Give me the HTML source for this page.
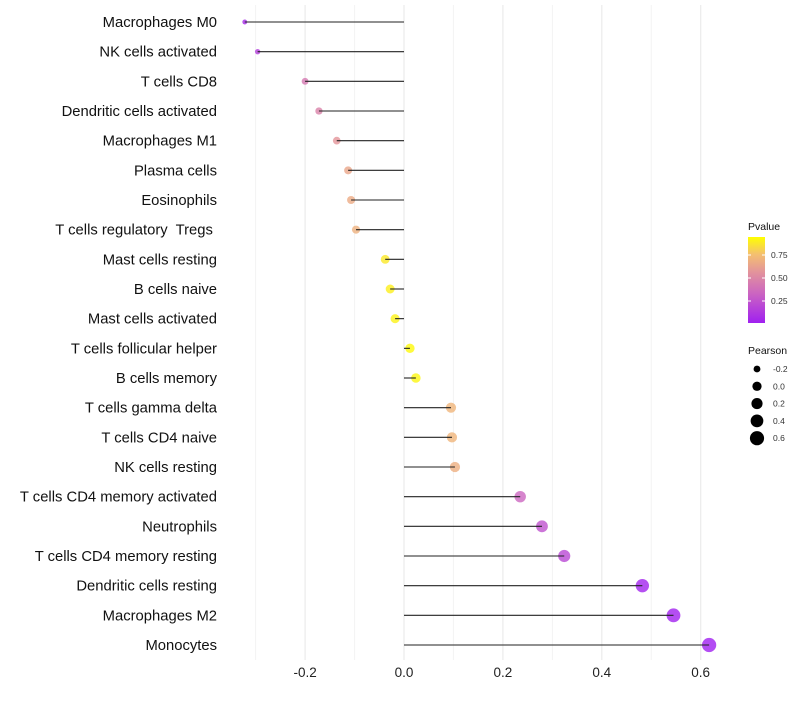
<!DOCTYPE html>
<html><head><meta charset="utf-8"><style>
body{margin:0;background:#fff;font-family:"Liberation Sans",sans-serif}
text{white-space:pre}
</style></head><body>
<svg id="chart" width="800" height="700" xmlns="http://www.w3.org/2000/svg" font-family="Liberation Sans, sans-serif">
<defs><linearGradient id="pg" x1="0" y1="1" x2="0" y2="0">
<stop offset="0" stop-color="#a020f0"/><stop offset="0.35" stop-color="#cc66c0"/><stop offset="0.6" stop-color="#e3959a"/><stop offset="0.8" stop-color="#f4c070"/><stop offset="1" stop-color="#ffff00"/></linearGradient></defs>
<g id="grid"></g><g id="marks"></g><g id="labels"></g><g id="legend"></g>
</svg>
<script>
const categories=["Macrophages M0","NK cells activated","T cells CD8","Dendritic cells activated","Macrophages M1","Plasma cells","Eosinophils","T cells regulatory  Tregs ","Mast cells resting","B cells naive","Mast cells activated","T cells follicular helper","B cells memory","T cells gamma delta","T cells CD4 naive","NK cells resting","T cells CD4 memory activated","Neutrophils","T cells CD4 memory resting","Dendritic cells resting","Macrophages M2","Monocytes"];
const pearson=[-0.322,-0.296,-0.200,-0.172,-0.136,-0.113,-0.107,-0.097,-0.038,-0.028,-0.018,0.012,0.024,0.095,0.097,0.103,0.235,0.279,0.324,0.482,0.545,0.617];
const pvalue=[0.05,0.15,0.45,0.5,0.6,0.68,0.7,0.73,0.93,0.95,0.96,0.98,0.97,0.75,0.75,0.72,0.35,0.25,0.2,0.02,0.01,0.003];
const xTicks=[-0.2,0,0.2,0.4,0.6];
const xMinor=[-0.3,-0.1,0.1,0.3,0.5];
const sizeLegend=[-0.2,0,0.2,0.4,0.6];
const colorTicks=[0.25,0.5,0.75];
const NS="http://www.w3.org/2000/svg";
const x=v=>404+v*494.5;
const y=i=>22+i*(623/21);
const r=v=>Math.sqrt(Math.max(3.5,21.4+48*v));
const stops=[[0,[160,32,240]],[0.35,[204,102,192]],[0.6,[227,149,154]],[0.8,[244,192,112]],[1,[255,255,0]]];
function col(p){for(let k=1;k<stops.length;k++){if(p<=stops[k][0]){const a=stops[k-1],b=stops[k],t=(p-a[0])/(b[0]-a[0]);return 'rgb('+a[1].map((c,j)=>Math.round(c+(b[1][j]-c)*t)).join(',')+')';}}return 'rgb(255,255,0)';}
function mk(tag,attrs,parent,text){const e=document.createElementNS(NS,tag);for(const k in attrs)e.setAttribute(k,attrs[k]);if(text!==undefined)e.textContent=text;document.getElementById(parent).appendChild(e);return e;}
xMinor.forEach(v=>{const e=mk('line',{x1:x(v),x2:x(v),y1:5,y2:660,stroke:'#f3f3f3','stroke-width':1},'grid');

});
xTicks.forEach(v=>{const e=mk('line',{x1:x(v),x2:x(v),y1:5,y2:660,stroke:'#ebebeb','stroke-width':1.2},'grid');


const t=mk('text',{x:x(v),y:677,'text-anchor':'middle','font-size':13.5,fill:'#222'},'labels',v===0?'0.0':v.toFixed(1));

});
categories.forEach((c,i)=>{
const p=mk('circle',{cx:x(pearson[i]),cy:y(i),r:r(pearson[i]),fill:col(pvalue[i]),'fill-opacity':0.8},'marks');


const s=mk('line',{x1:x(0),x2:x(pearson[i]),y1:y(i),y2:y(i),stroke:'#222','stroke-width':1.1},'marks');


const t=mk('text',{x:217,y:y(i)+5,'text-anchor':'end','font-size':14.8,fill:'#111'},'labels',c);

});
const lt=mk('text',{x:748,y:230,'font-size':10.5,fill:'#111'},'legend','Pvalue');


const cb=mk('rect',{x:748,y:237,width:17,height:86,fill:'url(#pg)'},'legend');


colorTicks.forEach(v=>{const yy=324-v*92;
const t=mk('text',{x:771,y:yy+3,'font-size':8.5,fill:'#333'},'legend',v.toFixed(2));


mk('line',{x1:748,x2:751,y1:yy,y2:yy,stroke:'#fff'},'legend');mk('line',{x1:762,x2:765,y1:yy,y2:yy,stroke:'#fff'},'legend');});
const st=mk('text',{x:748,y:354,'font-size':10.5,fill:'#111'},'legend','Pearson');


sizeLegend.forEach((v,k)=>{const yy=369+k*17.3;
const c=mk('circle',{cx:757,cy:yy,r:r(v),fill:'#000'},'legend');


const t=mk('text',{x:773,y:yy+3,'font-size':8.5,fill:'#333'},'legend',v===0?'0.0':v.toFixed(1));

});
</script>
</body></html>
